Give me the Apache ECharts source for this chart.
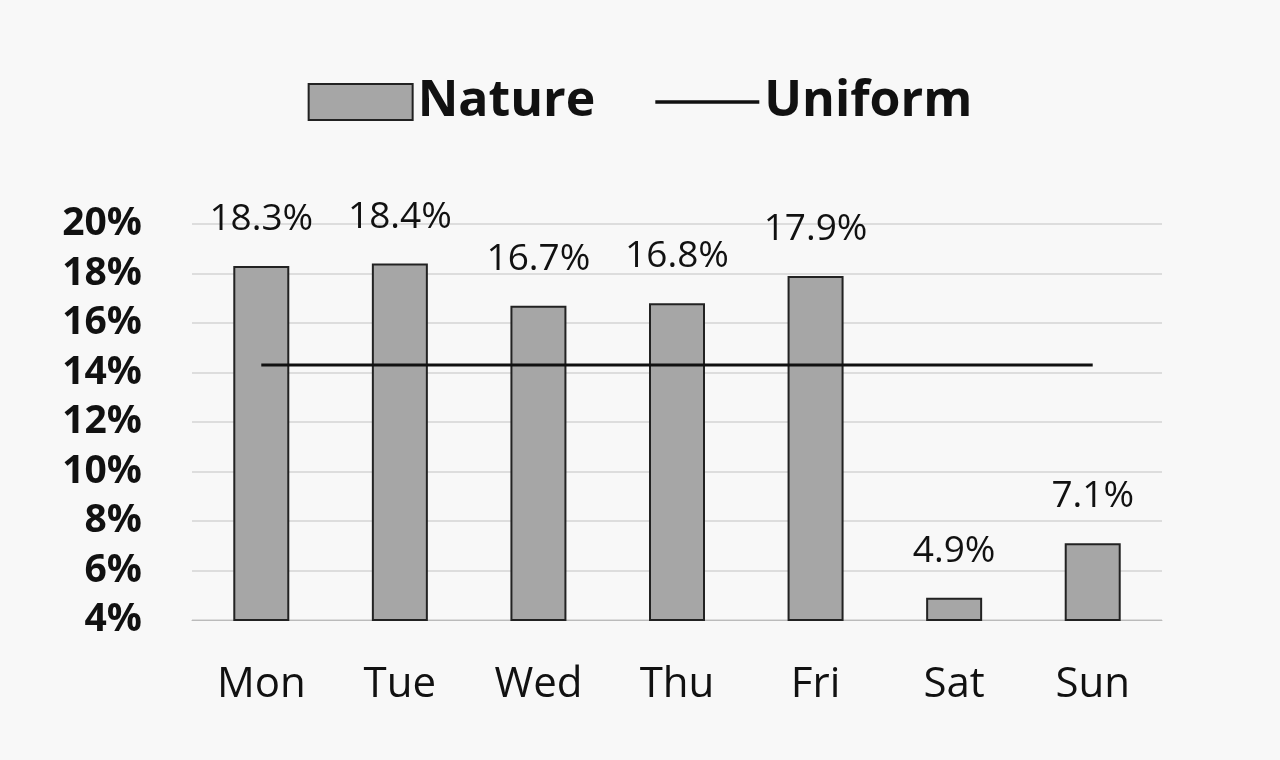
<!DOCTYPE html>
<html><head><meta charset="utf-8">
<script src="https://cdn.jsdelivr.net/npm/echarts@6/dist/echarts.min.js"></script>
<style>html,body{margin:0;background:#f8f8f8}#c{width:1280px;height:760px}</style>
</head><body><div id="c"></div>
<script>
const categories=['Mon','Tue','Wed','Thu','Fri','Sat','Sun'];
const nature=[18.3,18.4,16.7,16.8,17.9,4.9,7.1];
const uniform=[14.3,14.3,14.3,14.3,14.3,14.3,14.3];
const yTicks=[4,6,8,10,12,14,16,18,20];
const F='"Open Sans", "Liberation Sans", sans-serif';
const ch=echarts.init(document.getElementById('c'));
ch.setOption({
 backgroundColor:'#f8f8f8',
 animation:false,
 legend:{top:72,left:'center',itemWidth:104,itemHeight:36,itemGap:60,
  textStyle:{fontFamily:F,fontSize:50,fontWeight:'bold',color:'#111'},
  data:[{name:'Nature',icon:'rect'},{name:'Uniform',icon:'path://M0,0H30V1H0Z'}]},
 grid:{left:192,right:118,top:224,bottom:140},
 xAxis:{type:'category',data:categories,
  axisLine:{lineStyle:{color:'#bbb'}},axisTick:{show:false},
  axisLabel:{fontFamily:F,fontSize:42,color:'#111',margin:44}},
 yAxis:{type:'value',min:4,max:20,interval:2,
  axisLabel:{fontFamily:F,fontSize:39,fontWeight:'bold',color:'#111',margin:50,formatter:'{value}%'},
  splitLine:{lineStyle:{color:'#d4d4d4',width:1.5}}},
 series:[
  {name:'Nature',type:'bar',data:nature,barWidth:56,
   itemStyle:{color:'#a6a6a6',borderColor:'#222',borderWidth:2},
   label:{show:true,position:'top',distance:28,formatter:p=>p.value.toFixed(1)+'%',fontFamily:F,fontSize:37,color:'#111'}},
  {name:'Uniform',type:'line',data:uniform,symbol:'none',
   lineStyle:{color:'#111',width:3},itemStyle:{color:'#111'},z:5}
 ]
});
</script></body></html>
